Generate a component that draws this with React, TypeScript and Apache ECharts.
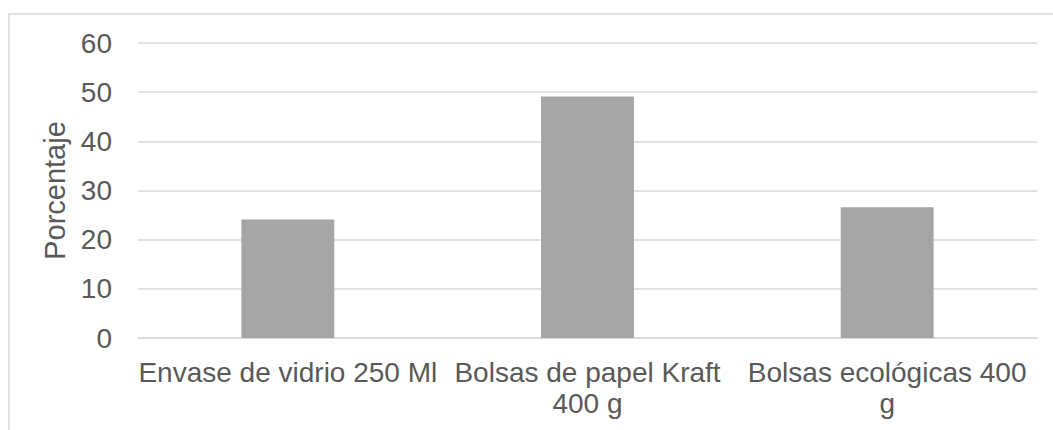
import React, { useEffect, useRef } from "react";
import * as echarts from "echarts";

const categories = ["Envase de vidrio 250 Ml", "Bolsas de papel Kraft 400 g", "Bolsas ecológicas 400 g"];
const tickLabels = ["Envase de vidrio 250 Ml", "Bolsas de papel Kraft\n400 g", "Bolsas ecológicas 400\ng"];
const values = [24.1, 49.1, 26.6];
const yTicks = { min: 0, max: 60, interval: 10 };
const yAxisTitle = "Porcentaje";

export default function App() {
  const ref = useRef<HTMLDivElement>(null);
  useEffect(() => {
    if (!ref.current) return;
    const chart = echarts.init(ref.current, null, { renderer: "svg" });
    const font = "'Liberation Sans', Arial, sans-serif";
    chart.setOption({
      animation: false,
      backgroundColor: "#ffffff",
      textStyle: { fontFamily: font },
      graphic: [
        {
          type: "rect",
          shape: { x: 9, y: 14, width: 1200, height: 600 },
          style: { fill: "none", stroke: "#d9d9d9", lineWidth: 1.5 },
          silent: true,
        },
      ],
      grid: { left: 138, right: 16, top: 43, bottom: 92 },
      xAxis: {
        type: "category",
        data: categories,
        axisLine: { show: true, lineStyle: { color: "#d9d9d9", width: 1.5 } },
        axisTick: { show: false },
        axisLabel: {
          color: "#595959",
          fontSize: 28,
          fontFamily: font,
          lineHeight: 31,
          margin: 19,
          interval: 0,
          align: "center",
          formatter: (_v: string, i: number) => tickLabels[i],
        },
      },
      yAxis: {
        type: "value",
        min: yTicks.min,
        max: yTicks.max,
        interval: yTicks.interval,
        name: yAxisTitle,
        nameLocation: "middle",
        nameGap: 65,
        nameRotate: 90,
        nameTextStyle: { color: "#595959", fontSize: 29, fontFamily: font },
        axisLine: { show: false },
        axisTick: { show: false },
        axisLabel: { color: "#595959", fontSize: 28, fontFamily: font, margin: 26 },
        splitLine: { lineStyle: { color: "#d9d9d9", width: 1.5 } },
      },
      series: [
        {
          type: "bar",
          data: values,
          barWidth: "31%",
          itemStyle: { color: "#a5a5a5" },
        },
      ],
    });
    return () => chart.dispose();
  }, []);
  return (
    <div
      ref={ref}
      style={{ position: "absolute", left: 0, top: 0, width: 1053, height: 430 }}
    />
  );
}
